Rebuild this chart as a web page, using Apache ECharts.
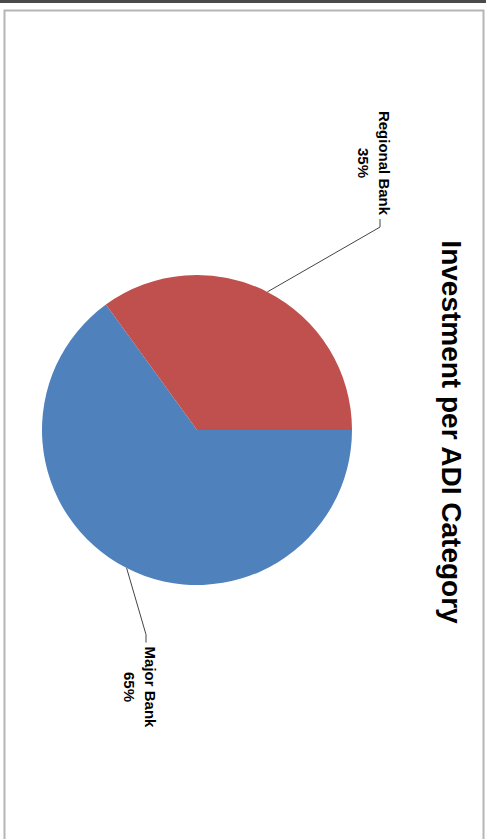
<!DOCTYPE html>
<html lang="en" style="height: 100%">
<head>
  <meta charset="UTF-8">
  <title>Investment per ADI Category</title>
  <style>
    html, body { margin: 0; height: 100%; overflow: hidden; background: #fff; }
    /* the chart is laid out landscape, then turned a quarter clockwise like the scan */
    #container {
      position: absolute; left: 0; top: 0;
      width: 839px; height: 486px;
      transform-origin: 0 0;
      transform: translateX(486px) rotate(90deg);
    }
  </style>
</head>
<body>
<div id="container"></div>
<script type="text/javascript" src="https://cdn.jsdelivr.net/npm/echarts@6/dist/echarts.min.js"></script>
<script type="text/javascript">
  var categories = ['Major Bank', 'Regional Bank'];
  var shares = [65, 35];
  var sliceColors = ['#4f81bd', '#c0504d'];

  // where each label block sits, in the unrotated chart
  var labelSpots = [[687, 346], [163, 112]];

  var dom = document.getElementById('container');
  var myChart = echarts.init(dom, null, { renderer: 'svg' });

  var option = {
    animation: false,
    backgroundColor: '#fff',
    title: {
      text: 'Investment per ADI Category',
      left: 427,
      top: 16,
      textAlign: 'center',
      textStyle: {
        fontFamily: 'Liberation Sans',
        fontSize: 28,
        fontWeight: 'bold',
        color: '#000'
      }
    },
    graphic: [
      { type: 'rect', silent: true, shape: { x: 0, y: 0, width: 3, height: 486 }, style: { fill: '#4a4a4a' } },
      { type: 'rect', silent: true, shape: { x: 10.5, y: 2.5, width: 840, height: 479 },
        style: { fill: 'none', stroke: '#b5b5b5', lineWidth: 2 } }
    ],
    series: [
      {
        name: 'Investment',
        type: 'pie',
        center: [430, 289],
        radius: 155,
        startAngle: 90,
        clockwise: true,
        avoidLabelOverlap: false,
        data: categories.map(function (name, i) {
          return { name: name, value: shares[i], itemStyle: { color: sliceColors[i] } };
        }),
        label: {
          show: true,
          position: 'outside',
          formatter: '{b}\n{d}%',
          fontFamily: 'Liberation Sans',
          fontSize: 15,
          fontWeight: 'bold',
          lineHeight: 21,
          color: '#000'
        },
        labelLine: {
          show: true,
          lineStyle: { color: '#444', width: 1 }
        },
        labelLayout: function (p) {
          var spot = labelSpots[p.dataIndex];
          var half = p.labelRect.width / 2;
          var start = p.labelLinePoints[0];
          var dir = spot[0] < start[0] ? 1 : -1;
          var edge = spot[0] + dir * (half + 4);
          var y = spot[1] - 6;
          return {
            x: spot[0],
            y: spot[1],
            align: 'center',
            verticalAlign: 'middle',
            labelLinePoints: [start, [edge + dir * 8, y], [edge, y]]
          };
        },
        emphasis: { disabled: true }
      }
    ]
  };

  myChart.setOption(option);
  window.addEventListener('resize', myChart.resize);
</script>
</body>
</html>
